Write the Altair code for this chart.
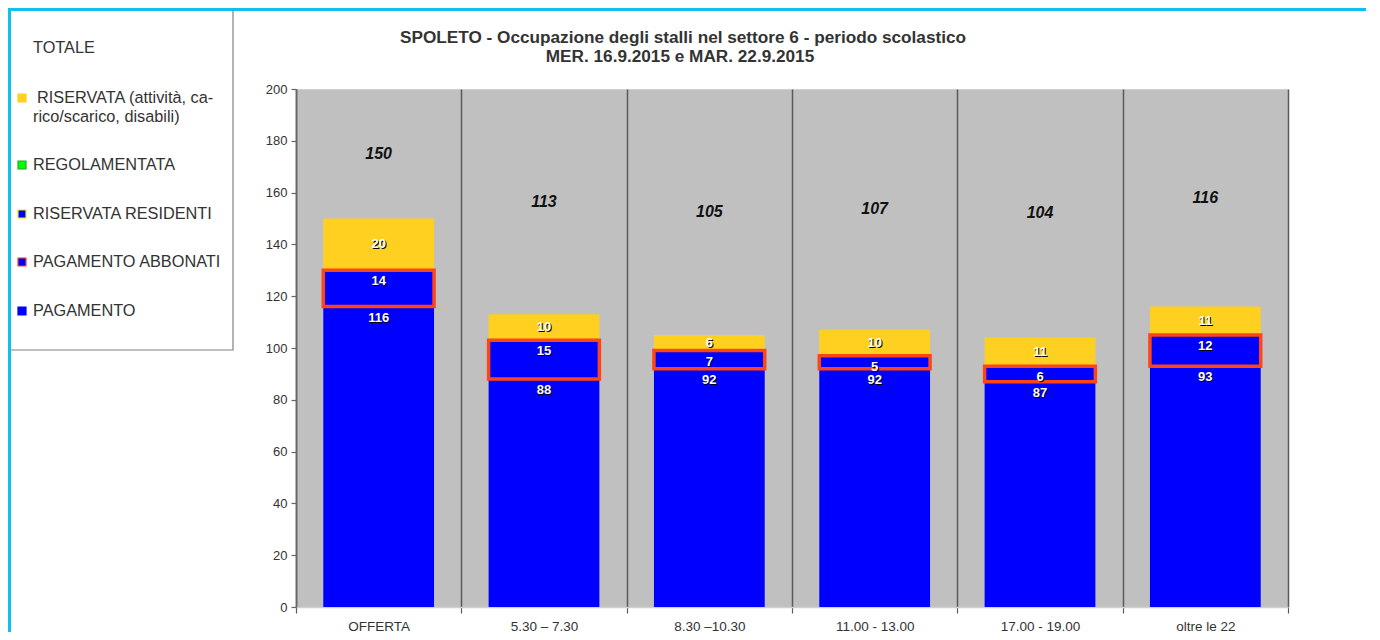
import altair as alt
import pandas as pd

# ---------------- data ----------------
categories = ["OFFERTA", "5.30 – 7.30", "8.30 –10.30", "11.00 - 13.00", "17.00 - 19.00", "oltre le 22"]
pagamento = [116, 88, 92, 92, 87, 93]
abbonati = [14, 15, 7, 5, 6, 12]
residenti = [0, 0, 0, 0, 0, 0]
regolamentata = [0, 0, 0, 0, 0, 0]
riservata = [20, 10, 6, 10, 11, 11]
totale = [150, 113, 105, 107, 104, 116]

series_names = ["PAGAMENTO", "PAGAMENTO ABBONATI", "RISERVATA RESIDENTI", "REGOLAMENTATA",
                "RISERVATA (attività, carico/scarico, disabili)"]
series_values = [pagamento, abbonati, residenti, regolamentata, riservata]
series_fill = ["#0000ff", "#0000ff", "#0000ff", "#00ff00", "#ffd020"]

FONT = "Liberation Sans"
BLUE = "#0000ff"
YELLOW = "#ffd020"
RED = "#ff4416"
GREEN = "#00ff00"
TXT = "#333333"

rows = []
for i, cat in enumerate(categories):
    acc = 0
    for name, vals, col in zip(series_names, series_values, series_fill):
        v = vals[i]
        rows.append({"cat": cat, "serie": name, "value": v, "start": acc, "end": acc + v,
                     "mid": acc + v / 2, "fill": col})
        acc += v
seg = pd.DataFrame(rows)
tot = pd.DataFrame({"cat": categories, "totale": totale})

# ---------------- main chart ----------------
xenc = alt.X("cat:N", sort=categories,
             scale=alt.Scale(paddingInner=0, paddingOuter=0),
             axis=alt.Axis(title=None, labelAngle=0, labelFont=FONT, labelFontSize=13.5,
                           labelColor=TXT, labelPadding=6, tickBand="extent", grid=True,
                           gridColor="#5a5a5a", gridWidth=1.5, tickColor="#5a5a5a",
                           tickSize=6, tickWidth=1.2, domainColor="#cfcfcf", domainWidth=1.5))
yenc = alt.Y("start:Q", scale=alt.Scale(domain=[0, 200], nice=False),
             axis=alt.Axis(title=None, values=list(range(0, 201, 20)), grid=False,
                           labelFont=FONT, labelFontSize=13, labelColor=TXT, labelPadding=4,
                           domainColor="#666666", domainWidth=1.5, tickColor="#666666",
                           tickSize=5, tickWidth=1.2))

base = alt.Chart(seg)
bw = alt.RelativeBandSize(0.67)

bars = base.transform_filter(
    "datum.serie != 'PAGAMENTO ABBONATI' && datum.value > 0"
).mark_bar(width=bw).encode(x=xenc, y=yenc, y2="end:Q", fill=alt.Fill("fill:N", scale=None))

bars_abb = base.transform_filter(
    "datum.serie == 'PAGAMENTO ABBONATI' && datum.value > 0"
).mark_bar(width=bw, fill=BLUE, stroke=RED, strokeWidth=3.5).encode(
    x=alt.X("cat:N", sort=categories), y="start:Q", y2="end:Q")

top_lab = base.transform_filter(
    "(datum.serie == 'PAGAMENTO' || datum.serie == 'PAGAMENTO ABBONATI') && datum.value > 0")
mid_lab = base.transform_filter(
    "datum.serie == 'RISERVATA (attività, carico/scarico, disabili)' && datum.value > 0")

lab_style = dict(font=FONT, fontSize=13, fontWeight="bold", baseline="middle", align="center")
top_shadow = top_lab.mark_text(color="#000000", dx=1, dy=12, **lab_style).encode(
    x=alt.X("cat:N", sort=categories), y="end:Q", text="value:Q")
top_text = top_lab.mark_text(color="#ffffff", dy=11, **lab_style).encode(
    x=alt.X("cat:N", sort=categories), y="end:Q", text="value:Q")
mid_shadow = mid_lab.mark_text(color="#000000", dx=1, dy=1, **lab_style).encode(
    x=alt.X("cat:N", sort=categories), y="mid:Q", text="value:Q")
mid_text = mid_lab.mark_text(color="#ffffff", **lab_style).encode(
    x=alt.X("cat:N", sort=categories), y="mid:Q", text="value:Q")

tot_text = alt.Chart(tot).transform_calculate(
    pos="100 + datum.totale / 2"
).mark_text(font=FONT, fontSize=16, fontWeight="bold", fontStyle="italic",
            color="#111111", baseline="middle", align="center").encode(
    x=alt.X("cat:N", sort=categories), y="pos:Q", text="totale:Q")

one = pd.DataFrame({"k": [0]})

# page frame decorations (pixel positions relative to plot origin)
frame_top = alt.Chart(one).mark_rect(color="#12bdf0").encode(
    x=alt.value(-288), x2=alt.value(1070), y=alt.value(-81), y2=alt.value(-78))
frame_left = alt.Chart(one).mark_rect(color="#12bdf0").encode(
    x=alt.value(-288), x2=alt.value(-285), y=alt.value(-81), y2=alt.value(543))

# title
title1 = alt.Chart(one).mark_text(text="SPOLETO - Occupazione degli stalli nel settore 6 - periodo scolastico",
                                  font=FONT, fontSize=17.2, fontWeight="bold", color=TXT,
                                  align="center", baseline="middle").encode(
    x=alt.value(387), y=alt.value(-51))
title2 = alt.Chart(one).mark_text(text="MER. 16.9.2015 e MAR. 22.9.2015",
                                  font=FONT, fontSize=17.2, fontWeight="bold", color=TXT,
                                  align="center", baseline="middle").encode(
    x=alt.value(384), y=alt.value(-32))

# legend box
leg_box = alt.Chart(one).mark_rect(fill="#ffffff", stroke="#808080", strokeWidth=1.2).encode(
    x=alt.value(-287), x2=alt.value(-63), y=alt.value(-79), y2=alt.value(261))

legend_items = [
    # (label, text x, text y, symbol fill, symbol stroke, symbol y)
    ("TOTALE", -263, -41, None, None, None),
    ("RISERVATA (attività, ca-", -259, 9, YELLOW, YELLOW, 9),
    ("rico/scarico, disabili)", -263, 28, None, None, None),
    ("REGOLAMENTATA", -263, 76, GREEN, "#22aa22", 76),
    ("RISERVATA RESIDENTI", -263, 125, BLUE, "#e8e800", 125),
    ("PAGAMENTO ABBONATI", -263, 173, BLUE, RED, 173),
    ("PAGAMENTO", -263, 222, BLUE, BLUE, 222),
]
leg_layers = [leg_box]
for label, tx, ty, sf, ss, sy in legend_items:
    leg_layers.append(alt.Chart(one).mark_text(text=label, font=FONT, fontSize=16.3, color=TXT,
                                               align="left", baseline="middle").encode(
        x=alt.value(tx), y=alt.value(ty)))
    if sf is not None:
        leg_layers.append(alt.Chart(one).mark_rect(fill=sf, stroke=ss, strokeWidth=1.2).encode(
            x=alt.value(-278), x2=alt.value(-270), y=alt.value(sy - 4), y2=alt.value(sy + 4)))

chart = alt.layer(
    bars, bars_abb, top_shadow, top_text, mid_shadow, mid_text, tot_text,
    *leg_layers, title1, title2, frame_top, frame_left
).properties(width=992, height=518, padding=0, background="#ffffff").configure_view(
    fill="#c0c0c0", stroke="#d0d0d0"
)

chart.save("out.html", embed_options={"renderer": "svg", "actions": False})
